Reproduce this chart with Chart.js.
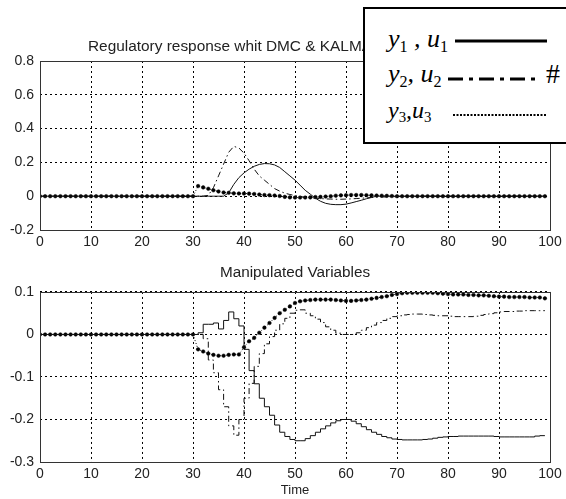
<!DOCTYPE html>
<html>
<head>
<meta charset="utf-8">
<script src="https://cdn.jsdelivr.net/npm/chart.js@4.4.1/dist/chart.umd.min.js"></script>
<style>
  body { margin: 0; background: #fff; }
  #wrap { position: relative; width: 566px; height: 499px; overflow: hidden; }
  canvas { position: absolute; left: 0; }
  #topChart { top: 0; }
  #bottomChart { top: 250px; }
  #topTitle { position: absolute; left: 88px; top: 37px; font: 15.4px "Liberation Sans", Arial, sans-serif; color: #222; white-space: nowrap; }
  #legendBox { position: absolute; left: 363px; top: 7px; width: 230px; height: 137px; box-sizing: border-box; border: 2px solid #000; background: #fff; }
  #legendLines { position: absolute; left: 0; top: 0; }
  .lg { position: absolute; font: italic 26px/26px "Liberation Serif", "Times New Roman", serif; color: #000; white-space: nowrap; }
  .lg sub { font-style: normal; font-size: 0.62em; vertical-align: -0.3em; line-height: 0; }
  #hash { position: absolute; left: 546px; top: 60px; font: 28px/28px "Liberation Serif", serif; color: #000; }
</style>
</head>
<body>
<div id="wrap">
  <canvas id="topChart" width="566" height="250"></canvas>
  <canvas id="bottomChart" width="566" height="249"></canvas>
  <div id="topTitle">Regulatory response whit DMC &amp; KALMAN</div>
  <div id="legendBox"></div>
  <svg id="legendLines" width="566" height="150">
    <line x1="455" y1="41" x2="547" y2="41" stroke="#000" stroke-width="3"/>
    <line x1="448" y1="79" x2="535" y2="79" stroke="#000" stroke-width="3" stroke-dasharray="15 6 4 6"/>
    <line x1="453" y1="115" x2="547" y2="115" stroke="#000" stroke-width="2" stroke-dasharray="2 1.5"/>
  </svg>
  <div class="lg" style="left:388px;top:26px">y<sub>1</sub> , u<sub>1</sub></div>
  <div class="lg" style="left:388px;top:61px">y<sub>2</sub>, u<sub>2</sub></div>
  <div class="lg" style="left:388px;top:98px;font-size:24px;line-height:24px">y<sub>3</sub>,u<sub>3</sub></div>
  <div id="hash">#</div>
</div>
<script>
// sample times
const time = [0, 1, 2, 3, 4, 5, 6, 7, 8, 9, 10, 11, 12, 13, 14, 15, 16, 17, 18, 19,
  20, 21, 22, 23, 24, 25, 26, 27, 28, 29, 30, 31, 32, 33, 34, 35, 36, 37, 38, 39,
  40, 41, 42, 43, 44, 45, 46, 47, 48, 49, 50, 51, 52, 53, 54, 55, 56, 57, 58, 59,
  60, 61, 62, 63, 64, 65, 66, 67, 68, 69, 70, 71, 72, 73, 74, 75, 76, 77, 78, 79,
  80, 81, 82, 83, 84, 85, 86, 87, 88, 89, 90, 91, 92, 93, 94, 95, 96, 97, 98, 99];

// Regulatory response (outputs)
const y1 = [0, 0, 0, 0, 0, 0, 0, 0, 0, 0, 0, 0, 0, 0, 0, 0, 0, 0, 0, 0,
  0, 0, 0, 0, 0, 0, 0, 0, 0, 0, 0, 0, 0, 0, 0, 0, 0, 0.02, 0.07, 0.11,
  0.138, 0.16, 0.177, 0.188, 0.193, 0.192, 0.185, 0.17, 0.145, 0.12, 0.095, 0.065, 0.035, 0.012, -0.012, -0.03, -0.042, -0.048, -0.05, -0.05,
  -0.047, -0.04, -0.032, -0.024, -0.015, -0.007, 0, 0, 0, 0, 0, 0, 0, 0, 0, 0, 0, 0, 0, 0,
  0, 0, 0, 0, 0, 0, 0, 0, 0, 0, 0, 0, 0, 0, 0, 0, 0, 0, 0, 0];
const y2 = [0, 0, 0, 0, 0, 0, 0, 0, 0, 0, 0, 0, 0, 0, 0, 0, 0, 0, 0, 0,
  0, 0, 0, 0, 0, 0, 0, 0, 0, 0, 0, 0, 0, 0.005, 0.05, 0.12, 0.19, 0.26, 0.295, 0.285,
  0.255, 0.21, 0.16, 0.12, 0.095, 0.07, 0.045, 0.03, 0.018, 0.01, 0.004, -0.002, -0.006, -0.009, -0.012, -0.014, -0.016, -0.017, -0.018, -0.018,
  -0.017, -0.016, -0.014, -0.012, -0.01, -0.008, -0.006, -0.005, -0.004, -0.003, -0.002, -0.002, -0.001, 0, 0, 0, 0, 0, 0, 0,
  0, 0, 0, 0, 0, 0, 0, 0, 0, 0, 0, 0, 0, 0, 0, 0, 0, 0, 0, 0];
const y3 = [0, 0, 0, 0, 0, 0, 0, 0, 0, 0, 0, 0, 0, 0, 0, 0, 0, 0, 0, 0,
  0, 0, 0, 0, 0, 0, 0, 0, 0, 0, 0, 0.06, 0.052, 0.044, 0.035, 0.028, 0.022, 0.02, 0.017, 0.016,
  0.016, 0.015, 0.013, 0.01, 0.007, 0.006, 0.004, 0.001, -0.004, -0.007, -0.008, -0.008, -0.008, -0.007, -0.005, -0.004, -0.002, 0, 0.003, 0.005,
  0.006, 0.007, 0.007, 0.007, 0.006, 0.005, 0.004, 0.003, 0.002, 0.001, 0, 0, 0, 0, 0, 0, 0, 0, 0, 0,
  0, 0, 0, 0, 0, 0, 0, 0, 0, 0, 0, 0, 0, 0, 0, 0, 0, 0, 0, 0];

// Manipulated variables
const u1 = [0, 0, 0, 0, 0, 0, 0, 0, 0, 0, 0, 0, 0, 0, 0, 0, 0, 0, 0, 0,
  0, 0, 0, 0, 0, 0, 0, 0, 0, 0, 0, 0.004, 0.024, 0.024, 0.027, 0.013, 0.033, 0.053, 0.037, 0.02,
  -0.035, -0.085, -0.116, -0.15, -0.17, -0.19, -0.213, -0.23, -0.24, -0.247, -0.25, -0.25, -0.245, -0.238, -0.23, -0.222, -0.215, -0.208, -0.203, -0.2,
  -0.2, -0.204, -0.21, -0.217, -0.224, -0.23, -0.235, -0.24, -0.243, -0.246, -0.247, -0.248, -0.248, -0.248, -0.248, -0.247, -0.246, -0.244, -0.242, -0.241,
  -0.24, -0.24, -0.239, -0.239, -0.239, -0.239, -0.239, -0.239, -0.239, -0.24, -0.241, -0.241, -0.241, -0.241, -0.241, -0.241, -0.241, -0.239, -0.238, -0.238];
const u2 = [0, 0, 0, 0, 0, 0, 0, 0, 0, 0, 0, 0, 0, 0, 0, 0, 0, 0, 0, 0,
  0, 0, 0, 0, 0, 0, 0, 0, 0, 0, 0, 0, -0.01, -0.06, -0.09, -0.13, -0.17, -0.215, -0.237, -0.2,
  -0.15, -0.115, -0.075, -0.045, -0.022, -0.005, 0.01, 0.025, 0.038, 0.05, 0.057, 0.058, 0.05, 0.044, 0.036, 0.028, 0.018, 0.01, 0.003, 0,
  0, 0, 0.004, 0.01, 0.016, 0.022, 0.028, 0.033, 0.038, 0.042, 0.044, 0.046, 0.047, 0.048, 0.048, 0.047, 0.046, 0.045, 0.044, 0.044,
  0.043, 0.042, 0.042, 0.042, 0.042, 0.043, 0.045, 0.047, 0.049, 0.051, 0.053, 0.054, 0.054, 0.055, 0.055, 0.056, 0.056, 0.056, 0.056, 0.056];
const u3 = [0, 0, 0, 0, 0, 0, 0, 0, 0, 0, 0, 0, 0, 0, 0, 0, 0, 0, 0, 0,
  0, 0, 0, 0, 0, 0, 0, 0, 0, 0, 0, -0.035, -0.04, -0.045, -0.048, -0.05, -0.05, -0.048, -0.047, -0.047,
  -0.03, -0.016, -0.008, 0.004, 0.016, 0.027, 0.039, 0.05, 0.058, 0.066, 0.074, 0.078, 0.08, 0.081, 0.082, 0.082, 0.082, 0.082, 0.081, 0.08,
  0.079, 0.079, 0.08, 0.081, 0.082, 0.084, 0.086, 0.088, 0.09, 0.093, 0.095, 0.097, 0.098, 0.098, 0.098, 0.098, 0.098, 0.098, 0.097, 0.096,
  0.095, 0.094, 0.094, 0.094, 0.093, 0.093, 0.092, 0.092, 0.091, 0.09, 0.089, 0.089, 0.088, 0.088, 0.088, 0.088, 0.087, 0.087, 0.087, 0.085];

// axis ticks
const xTicks = [0, 10, 20, 30, 40, 50, 60, 70, 80, 90, 100];
const yTicksTop = [-0.2, 0, 0.2, 0.4, 0.6, 0.8];
const yLabelsTop = ['-0.2', '0', '0.2', '0.4', '0.6', '0.8'];
const yTicksBottom = [-0.3, -0.2, -0.1, 0, 0.1];
const yLabelsBottom = ['-0.3', '-0.2', '-0.1', '0', '0.1'];

const FONT = '"Liberation Sans", Arial, sans-serif';
const INK = '#222';

// MATLAB style box round the axes
const framePlugin = {
    id: 'frame',
    afterDraw(chart) {
        const { ctx, chartArea: a } = chart;
        ctx.save();
        ctx.strokeStyle = '#333';
        ctx.lineWidth = 1;
        ctx.setLineDash([]);
        ctx.strokeRect(Math.round(a.left) + 0.5, Math.round(a.top) + 0.5,
            Math.round(a.right - a.left), Math.round(a.bottom - a.top));
        ctx.restore();
    }
};

function pts(values) {
    return time.map((t, i) => ({ x: t, y: values[i] }));
}

function solid(values, stepped) {
    return { data: pts(values), borderColor: '#111', borderWidth: 1, pointRadius: 0, stepped: stepped };
}
function dashDot(values, stepped) {
    return { data: pts(values), borderColor: '#111', borderWidth: 1, borderDash: [6, 3, 1.5, 3], pointRadius: 0, stepped: stepped };
}
function dotted(values) {
    return {
        data: pts(values), borderColor: '#000', borderWidth: 1, borderDash: [1, 2],
        pointRadius: 1.8, pointBorderWidth: 0.5, pointBackgroundColor: '#000', pointBorderColor: '#000'
    };
}

function axes(yMin, yMax, yTicks, yLabels, xHeight, xTitle) {
    return {
        x: {
            type: 'linear', min: 0, max: 100,
            afterBuildTicks: s => { s.ticks = xTicks.map(v => ({ value: v })); },
            afterFit: s => { s.height = xHeight; },
            grid: { color: '#000', lineWidth: 1, drawTicks: false },
            border: { display: false, dash: [2, 3] },
            ticks: { color: INK, font: { family: FONT, size: 14 }, padding: 4, maxRotation: 0, autoSkip: false },
            title: xTitle
                ? { display: true, text: xTitle, color: INK, font: { family: FONT, size: 13 }, padding: { top: 0, bottom: 1 } }
                : { display: false }
        },
        y: {
            min: yMin, max: yMax,
            afterBuildTicks: s => { s.ticks = yTicks.map(v => ({ value: v })); },
            afterFit: s => { s.width = 40; },
            grid: { color: '#000', lineWidth: 1, drawTicks: false },
            border: { display: false, dash: [2, 3] },
            ticks: {
                color: INK, font: { family: FONT, size: 14 }, padding: 6, autoSkip: false,
                callback: v => yLabels[yTicks.indexOf(v)]
            }
        }
    };
}

const common = {
    responsive: false,
    animation: false,
    elements: { line: { tension: 0 } },
    events: []
};

new Chart(document.getElementById('topChart'), {
    type: 'line',
    data: { datasets: [solid(y1, false), dashDot(y2, false), dotted(y3)] },
    options: Object.assign({}, common, {
        layout: { padding: { top: 61, right: 16, left: 0, bottom: 0 } },
        plugins: { legend: { display: false }, tooltip: { enabled: false }, title: { display: false } },
        scales: axes(-0.2, 0.8, yTicksTop, yLabelsTop, 20, null)
    }),
    plugins: [framePlugin]
});

new Chart(document.getElementById('bottomChart'), {
    type: 'line',
    data: { datasets: [solid(u1, true), dashDot(u2, true), dotted(u3)] },
    options: Object.assign({}, common, {
        layout: { padding: { top: 0, right: 16, left: 0, bottom: 0 } },
        plugins: {
            legend: { display: false },
            tooltip: { enabled: false },
            title: {
                display: true, text: 'Manipulated Variables', fullSize: false, color: INK,
                font: { family: FONT, size: 15.3, weight: 'normal' }, padding: { top: 13.8, bottom: 9.8 }
            }
        },
        scales: axes(-0.3, 0.1, yTicksBottom, yLabelsBottom, 37, 'Time')
    }),
    plugins: [framePlugin]
});
</script>
</body>
</html>
